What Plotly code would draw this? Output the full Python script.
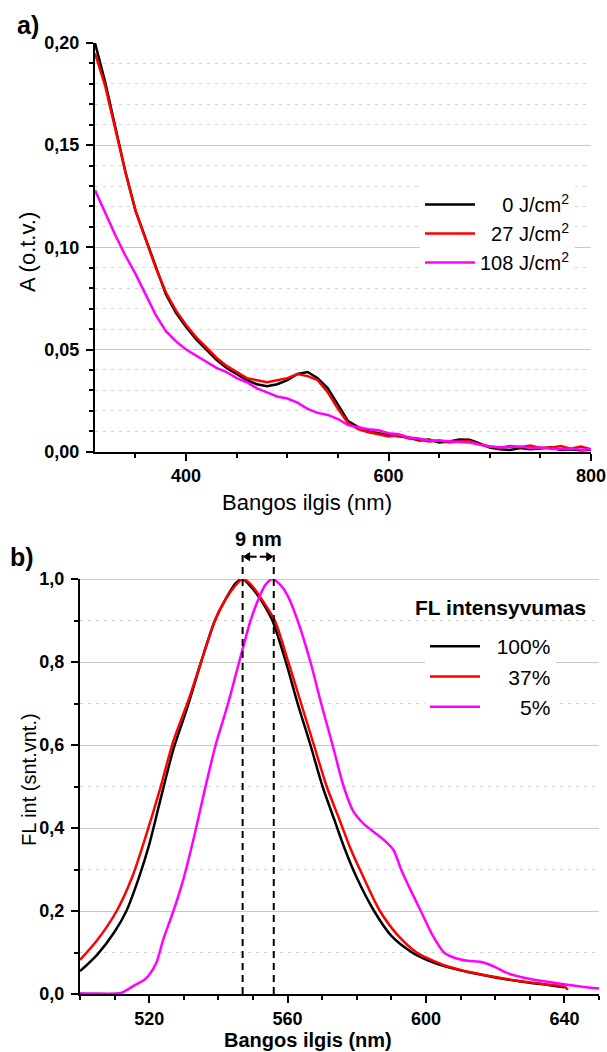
import plotly.graph_objects as go

# ---------------- Panel a) absorption spectra ----------------
wl_abs = [310, 320, 330, 340, 350, 360, 370, 380, 390, 400,
          410, 420, 430, 440, 450, 460, 470, 480, 490, 500,
          510, 520, 530, 540, 550, 560, 570, 580, 590, 600,
          610, 620, 630, 640, 650, 660, 670, 680, 690, 700,
          710, 720, 730, 740, 750, 760, 770, 780, 790, 800]
abs_0 = [0.200, 0.181, 0.159, 0.137, 0.118, 0.104, 0.090, 0.077, 0.068, 0.061,
         0.055, 0.050, 0.045, 0.041, 0.038, 0.035, 0.033, 0.032, 0.033, 0.035,
         0.038, 0.039, 0.036, 0.031, 0.023, 0.015, 0.012, 0.010, 0.009, 0.008,
         0.0075, 0.007, 0.0055, 0.006, 0.0045, 0.005, 0.006, 0.0058, 0.004, 0.002,
         0.0012, 0.0008, 0.0018, 0.0012, 0.0015, 0.0022, 0.0008, 0.0012, 0.0006, 0.0010]
abs_27 = [0.195, 0.179, 0.158, 0.137, 0.118, 0.104, 0.090, 0.078, 0.069, 0.062,
          0.056, 0.051, 0.046, 0.042, 0.039, 0.036, 0.035, 0.034, 0.035, 0.036,
          0.038, 0.037, 0.035, 0.029, 0.021, 0.014, 0.011, 0.0095, 0.0085, 0.0075,
          0.008, 0.0065, 0.006, 0.005, 0.0055, 0.0045, 0.005, 0.0052, 0.0035, 0.0025,
          0.002, 0.0028, 0.0022, 0.003, 0.0018, 0.002, 0.0028, 0.0015, 0.0025, 0.0012]
abs_108 = [0.128, 0.117, 0.106, 0.096, 0.087, 0.077, 0.067, 0.059, 0.054, 0.050,
           0.047, 0.044, 0.041, 0.039, 0.036, 0.034, 0.031, 0.029, 0.027, 0.026,
           0.024, 0.021, 0.019, 0.018, 0.016, 0.013, 0.012, 0.011, 0.0105, 0.009,
           0.0085, 0.007, 0.0065, 0.0055, 0.0055, 0.005, 0.0048, 0.0045, 0.0035, 0.0025,
           0.002, 0.0022, 0.0025, 0.0018, 0.002, 0.0015, 0.0012, 0.0015, 0.0010, 0.0012]
abs_names = ["\u00a0\u00a0\u00a0\u00a00 J/cm<sup>2</sup>",
             "\u00a0\u00a027 J/cm<sup>2</sup>",
             "108 J/cm<sup>2</sup>"]

# ---------------- Panel b) fluorescence spectra ----------------
wl_fl_100 = [500, 505, 510, 513.4, 517, 520, 523, 527, 531, 535, 539, 542, 545, 547,
             549, 551, 553, 555.6, 559.5, 562.9, 566.6, 570.1, 573.5, 576.5, 580, 585,
             590, 596, 600, 605, 610, 615, 620, 625, 630, 635, 640]
fl_100 = [0.055, 0.095, 0.15, 0.20, 0.28, 0.36, 0.46, 0.59, 0.69, 0.80, 0.90, 0.95, 0.99, 1.0,
          0.985, 0.965, 0.94, 0.90, 0.80, 0.70, 0.60, 0.50, 0.42, 0.35, 0.28, 0.20,
          0.14, 0.10, 0.083, 0.068, 0.057, 0.048, 0.040, 0.033, 0.027, 0.022, 0.016]
wl_fl_37 = [500, 505, 510.6, 515, 519, 523, 527, 531, 535, 539, 542, 545, 547,
            549, 551, 553, 556.3, 560.2, 563.9, 567.6, 571.3, 575, 578.2, 582, 586.7,
            592, 597.3, 600, 605, 610, 615, 620, 625, 630, 635, 640, 641]
fl_37 = [0.082, 0.13, 0.20, 0.28, 0.38, 0.49, 0.61, 0.70, 0.80, 0.90, 0.95, 0.985, 1.0,
         0.99, 0.97, 0.945, 0.90, 0.80, 0.70, 0.60, 0.50, 0.42, 0.35, 0.28, 0.20,
         0.14, 0.10, 0.088, 0.070, 0.058, 0.049, 0.041, 0.034, 0.028, 0.023, 0.018, 0.010]
wl_fl_5 = [500, 505, 510, 512, 515.6, 519, 522, 524, 527, 530, 533, 536, 539.2, 542.8,
           546, 549.3, 551.5, 553.5, 555.6, 558, 560, 562.9, 566.6, 569.7, 573, 576.2,
           579, 582, 585, 588, 590.6, 592.8, 595, 598.5, 602, 605.2, 608, 612, 616, 620,
           623, 629, 637, 643, 650]
fl_5 = [0.002, 0.001, 0.001, 0.003, 0.02, 0.037, 0.074, 0.13, 0.20, 0.28, 0.38, 0.49, 0.60, 0.70,
        0.80, 0.90, 0.95, 0.985, 1.0, 0.985, 0.96, 0.90, 0.80, 0.70, 0.60, 0.50,
        0.44, 0.41, 0.39, 0.37, 0.347, 0.30, 0.26, 0.20, 0.14, 0.10, 0.088, 0.080, 0.077, 0.065,
        0.052, 0.038, 0.027, 0.020, 0.013]
fl_names = ["\u00a0\u00a0100%", "\u00a0\u00a0\u00a0\u00a037%", "\u00a0\u00a0\u00a0\u00a0\u00a0\u00a05%"]
peak_lines = [547, 556]

colors = ["#000000", "#ff0000", "#ff00ff"]
FONT = "Liberation Sans, Arial, sans-serif"

fig = go.Figure()
for ys, nm, c in zip([abs_0, abs_27, abs_108], abs_names, colors):
    fig.add_trace(go.Scatter(x=wl_abs, y=ys, name=nm, mode="lines",
                             line=dict(color=c, width=2.5), xaxis="x", yaxis="y",
                             legend="legend"))
for xs, ys, nm, c in zip([wl_fl_100, wl_fl_37, wl_fl_5], [fl_100, fl_37, fl_5], fl_names, colors):
    fig.add_trace(go.Scatter(x=xs, y=ys, name=nm, mode="lines",
                             line=dict(color=c, width=2.5, shape="spline", smoothing=0.8),
                             xaxis="x2", yaxis="y2", legend="legend2"))

W, H = 607, 1052
def px_x(p): return p / W
def px_y(p): return 1 - p / H

tickfont = dict(family=FONT, size=18, color="black", weight="bold")
axis_common = dict(showline=True, linecolor="black", linewidth=2, ticks="outside",
                   ticklen=7, tickwidth=2, tickcolor="black", tickfont=tickfont,
                   automargin=False, zeroline=False)
minor_grid_y = dict(ticks="outside", ticklen=4, tickwidth=2, tickcolor="black",
                    showgrid=True, gridcolor="#d4d4d4", griddash="3px,5px", gridwidth=1)

fig.update_layout(
    width=W, height=H, margin=dict(l=0, r=0, t=0, b=0),
    paper_bgcolor="white", plot_bgcolor="white", separators=",.",
    font=dict(family=FONT, color="black"),
    xaxis=dict(domain=[px_x(95), px_x(591)], anchor="y", range=[310, 800],
               tick0=0, dtick=200, tickformat="d", showgrid=False,
               minor=dict(dtick=50, tick0=0, ticks="outside", ticklen=4, tickwidth=2, tickcolor="black"),
               ticklabelstandoff=0, **axis_common),
    yaxis=dict(domain=[px_y(451.7), px_y(43)], anchor="x", range=[0, 0.2],
               tick0=0, dtick=0.05, tickformat=".2f", showgrid=True,
               gridcolor="#c8c8c8", gridwidth=1,
               minor=dict(dtick=0.01, tick0=0, **minor_grid_y),
               ticklabelstandoff=3, **axis_common),
    xaxis2=dict(domain=[px_x(80), px_x(599)], anchor="y2", range=[500, 650],
                tick0=0, dtick=40, tickformat="d", showgrid=False,
                minor=dict(dtick=10, tick0=0, ticks="outside", ticklen=4, tickwidth=2, tickcolor="black"),
                ticklabelstandoff=0, **axis_common),
    yaxis2=dict(domain=[px_y(994), px_y(579)], anchor="x2", range=[0, 1.0],
                tick0=0, dtick=0.2, tickformat=".1f", showgrid=True,
                gridcolor="#c8c8c8", gridwidth=1,
                minor=dict(dtick=0.1, tick0=0, **minor_grid_y),
                ticklabelstandoff=3, **axis_common),
    legend=dict(x=px_x(420), y=px_y(185), xanchor="left", yanchor="top",
                bgcolor="white", borderwidth=0, itemwidth=50,
                font=dict(family=FONT, size=20, color="black")),
    legend2=dict(x=px_x(425), y=px_y(626), xanchor="left", yanchor="top",
                 bgcolor="white", borderwidth=0, itemwidth=50,
                 font=dict(family=FONT, size=21, color="black")),
)

# legend title for panel b
fig.add_annotation(x=px_x(500), y=px_y(607), xref="paper", yref="paper",
                   text="FL intensyvumas", showarrow=False, xanchor="center", yanchor="middle",
                   font=dict(family=FONT, size=21, color="black", weight="bold"))

# axis titles
fig.add_annotation(x=px_x(307), y=px_y(502), xref="paper", yref="paper",
                   text="Bangos ilgis (nm)", showarrow=False, xanchor="center", yanchor="middle",
                   font=dict(family=FONT, size=22, color="black"))
fig.add_annotation(x=px_x(308), y=px_y(1040), xref="paper", yref="paper",
                   text="Bangos ilgis (nm)", showarrow=False, xanchor="center", yanchor="middle",
                   font=dict(family=FONT, size=20, color="black", weight="bold"))
fig.add_annotation(x=px_x(28), y=px_y(252), xref="paper", yref="paper",
                   text="A (o.t.v.)", showarrow=False, textangle=-90,
                   xanchor="center", yanchor="middle",
                   font=dict(family=FONT, size=22, color="black"))
fig.add_annotation(x=px_x(29), y=px_y(780), xref="paper", yref="paper",
                   text="FL int (snt.vnt.)", showarrow=False, textangle=-90,
                   xanchor="center", yanchor="middle",
                   font=dict(family=FONT, size=20, color="black"))

# peak markers (dashed vertical lines) in panel b
for xv in peak_lines:
    fig.add_shape(type="line", xref="x2", yref="paper", x0=xv, x1=xv,
                  y0=px_y(994), y1=px_y(552),
                  line=dict(color="black", width=2, dash="7px,5px"))
# darker top gridline at 1.0 in panel b
fig.add_shape(type="line", xref="x2", yref="y2", x0=500, x1=650, y0=1.0, y1=1.0,
              line=dict(color="#9a9a9a", width=1.2), layer="below")

# small arrows for the 9 nm shift (stems + triangular heads pointing at the dashed lines)
nm_per_px = 150 / (599 - 80)
ya = px_y(556.7)
hh = 4 / H
for xv, sgn in [(peak_lines[0], 1), (peak_lines[1], -1)]:
    tail = xv + sgn * 14 * nm_per_px
    fig.add_shape(type="line", xref="x2", yref="paper", x0=xv + sgn * 3 * nm_per_px, x1=tail,
                  y0=ya, y1=ya, line=dict(color="black", width=2))
    hx = xv + sgn * 7 * nm_per_px
    fig.add_shape(type="path", xref="x2", yref="paper",
                  path=f"M {xv + sgn * 1 * nm_per_px},{ya} L {hx},{ya + hh} L {hx},{ya - hh} Z",
                  fillcolor="black", line=dict(color="black", width=1))
fig.add_annotation(x=(peak_lines[0] + peak_lines[1]) / 2, y=px_y(539), xref="x2", yref="paper",
                   text="9 nm", showarrow=False, yanchor="middle",
                   font=dict(family=FONT, size=20, color="black", weight="bold"))

# panel labels
fig.add_annotation(x=px_x(28), y=px_y(25), xref="paper", yref="paper", text="a)",
                   showarrow=False, xanchor="center", yanchor="middle",
                   font=dict(family=FONT, size=25, color="black", weight="bold"))
fig.add_annotation(x=px_x(22), y=px_y(557), xref="paper", yref="paper", text="b)",
                   showarrow=False, xanchor="center", yanchor="middle",
                   font=dict(family=FONT, size=25, color="black", weight="bold"))

fig.write_html("out.html")
